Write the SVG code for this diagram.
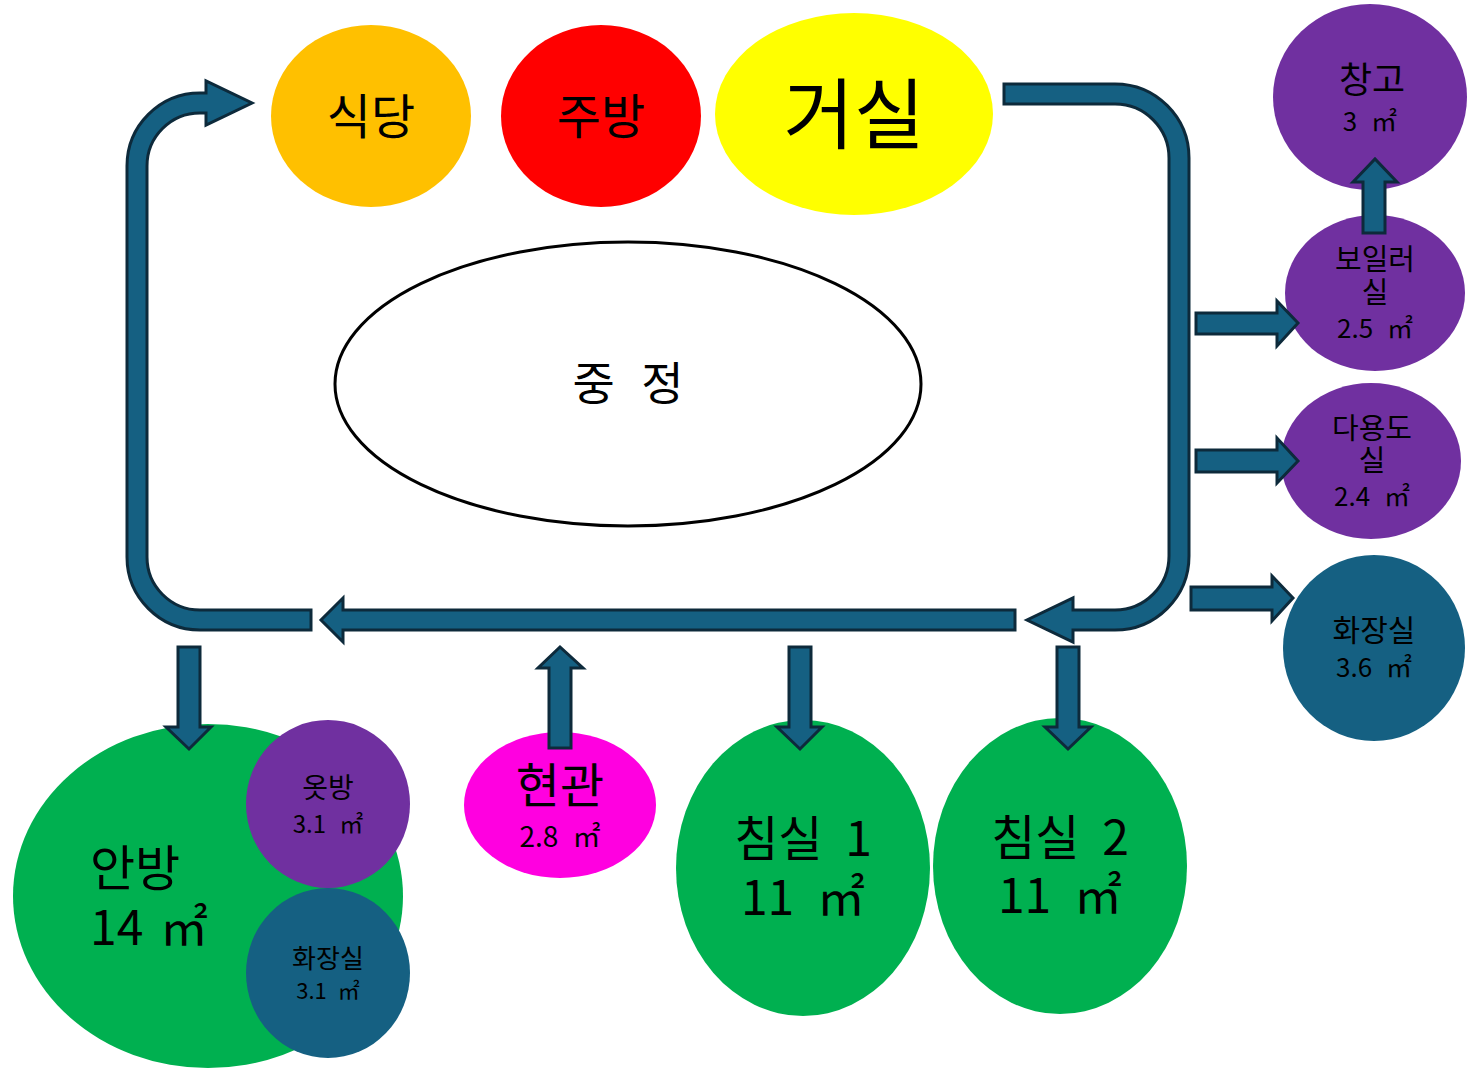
<svg xmlns="http://www.w3.org/2000/svg" width="1467" height="1069" viewBox="0 0 1467 1069">
<style>
text{font-family:"Noto Sans CJK KR","Noto Sans",sans-serif;text-anchor:middle;fill:#000}
.arr{fill:#156082;stroke:#0D2A3B;stroke-width:3;stroke-linejoin:miter}
.pur{fill:#7030A0}
.blu{fill:#156082}
.grn{fill:#00B050}
.ws{word-spacing:8px}
</style>
<rect width="1467" height="1069" fill="#fff"/>
<g id="siktang"><ellipse cx="371" cy="116" rx="100" ry="91" fill="#FFC000"/><text x="371" y="134" font-size="48">식당</text></g>
<g id="jubang"><ellipse cx="601" cy="116" rx="100" ry="91" fill="#FF0000"/><text x="601" y="134" font-size="48">주방</text></g>
<g id="geosil"><ellipse cx="854" cy="114" rx="139" ry="101" fill="#FFFF00"/><text x="854" y="143" font-size="77">거실</text></g>
<g id="jungjeong"><ellipse cx="628" cy="384" rx="293" ry="142" fill="#fff" stroke="#000" stroke-width="3"/><text x="628" y="400" font-size="46" style="word-spacing:16px">중 정</text></g>
<g id="changgo"><ellipse cx="1370" cy="97" rx="97" ry="93" class="pur"/><text x="1372" y="93" font-size="36">창고</text><text x="1370" y="131" font-size="26" class="ws">3 ㎡</text></g>
<g id="boiler"><ellipse cx="1375" cy="293" rx="90" ry="78" class="pur"/><text x="1375" y="270" font-size="29">보일러</text><text x="1375" y="303" font-size="29">실</text><text x="1375" y="338" font-size="26" class="ws">2.5 ㎡</text></g>
<g id="dayongdo"><ellipse cx="1371" cy="461" rx="90" ry="78" class="pur"/><text x="1372" y="439" font-size="29">다용도</text><text x="1372" y="471" font-size="29">실</text><text x="1372" y="506" font-size="26" class="ws">2.4 ㎡</text></g>
<g id="hwajangsil1"><ellipse cx="1374" cy="648" rx="91" ry="93" class="blu"/><text x="1374" y="641" font-size="30">화장실</text><text x="1374" y="677" font-size="26" class="ws">3.6 ㎡</text></g>
<g id="anbang"><ellipse cx="208" cy="896" rx="195" ry="172" class="grn"/><text x="90" y="886" font-size="49" style="text-anchor:start">안방</text><text x="90" y="945" font-size="48" style="text-anchor:start;word-spacing:6px">14 ㎡</text></g>
<g id="otbang"><ellipse cx="328" cy="804" rx="82" ry="84" class="pur"/><text x="328" y="798" font-size="28">옷방</text><text x="328" y="833" font-size="24" class="ws">3.1 ㎡</text></g>
<g id="hwajangsil2"><ellipse cx="328" cy="973" rx="82" ry="85" class="blu"/><text x="328" y="968" font-size="26">화장실</text><text x="328" y="999" font-size="22" style="word-spacing:6px">3.1 ㎡</text></g>
<g id="hyeongwan"><ellipse cx="560" cy="805" rx="96" ry="73" fill="#FF00E0"/><text x="560" y="803" font-size="48">현관</text><text x="560" y="847" font-size="28" class="ws">2.8 ㎡</text></g>
<g id="chimsil1"><ellipse cx="803" cy="868" rx="127" ry="148" class="grn"/><text x="803" y="856" font-size="48" style="word-spacing:12px">침실 1</text><text x="803" y="915" font-size="48" style="word-spacing:12px">11 ㎡</text></g>
<g id="chimsil2"><ellipse cx="1060" cy="866" rx="127" ry="148" class="grn"/><text x="1060" y="855" font-size="48" style="word-spacing:12px">침실 2</text><text x="1060" y="913" font-size="48" style="word-spacing:12px">11 ㎡</text></g>
<g id="connectors">
<path class="arr" d="M311,630 L200,630 A73,73 0 0 1 127,557 L127,166 A73,73 0 0 1 200,93 L206,93 L206,81 L252,103 L206,125 L206,113 L200,113 A53,53 0 0 0 147,166 L147,557 A53,53 0 0 0 200,610 L311,610 Z"/>
<path class="arr" d="M1004,84 L1115,84 A74,74 0 0 1 1189,158 L1189,556 A74,74 0 0 1 1115,630 L1073,630 L1073,642 L1027,620 L1073,598 L1073,610 L1115,610 A54,54 0 0 0 1169,556 L1169,158 A54,54 0 0 0 1115,104 L1004,104 Z"/>
<path class="arr" d="M1015,610 L343,610 L343,598 L321,620 L343,642 L343,630 L1015,630 Z"/>
<path class="arr" d="M178,647 L200,647 L200,727 L211,727 L189,749 L166,727 L178,727 Z"/>
<path class="arr" d="M789,647 L811,647 L811,727 L822,727 L800,749 L777,727 L789,727 Z"/>
<path class="arr" d="M1057,647 L1079,647 L1079,727 L1091,727 L1068,749 L1045,727 L1057,727 Z"/>
<path class="arr" d="M549,748 L571,748 L571,668 L583,668 L560,647 L538,668 L549,668 Z"/>
<path class="arr" d="M1363,233 L1385,233 L1385,182 L1397,182 L1375,159 L1353,182 L1363,182 Z"/>
<path class="arr" d="M1196,313 L1277,313 L1277,301 L1298,323 L1277,346 L1277,334 L1196,334 Z"/>
<path class="arr" d="M1196,450 L1277,450 L1277,438 L1298,461 L1277,483 L1277,472 L1196,472 Z"/>
<path class="arr" d="M1191,587 L1272,587 L1272,576 L1293,598 L1272,621 L1272,610 L1191,610 Z"/>
</g>
</svg>
